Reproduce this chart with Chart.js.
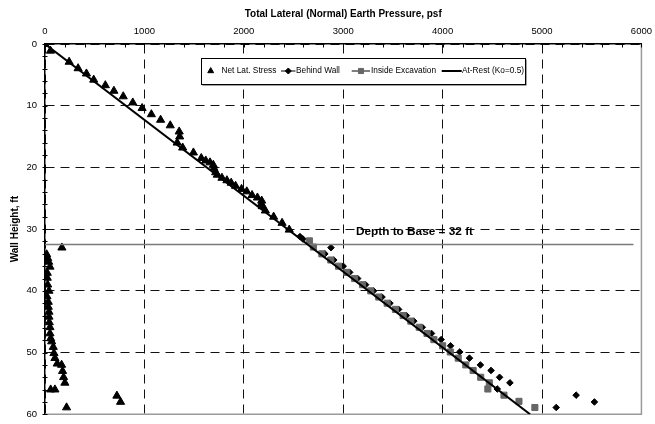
<!DOCTYPE html>
<html><head><meta charset="utf-8">
<script src="https://cdn.jsdelivr.net/npm/chart.js@4.4.1/dist/chart.umd.min.js"></script>
<style>html,body{margin:0;padding:0;background:#fff}#wrap{width:655px;height:424px;position:relative}</style>
</head><body><div id="wrap"><canvas id="c"></canvas></div>
<script>
// ---- data ----
const seriesNames = ['Net Lat. Stress', 'Behind Wall', 'Inside Excavation', 'At-Rest (Ko=0.5)'];
const xAxisTitle = 'Total Lateral (Normal) Earth Pressure, psf';
const yAxisTitle = 'Wall Height, ft';
const xTickLabels = [0, 1000, 2000, 3000, 4000, 5000, 6000];
const yTickLabels = [0, 10, 20, 30, 40, 50, 60];

const netLatPsf = [0, 55, 243, 333, 417, 490, 607, 693, 787, 883, 977, 1070, 1163, 1260, 1350, 1355, 1330, 1385, 1493, 1572, 1617, 1660, 1693, 1700, 1717, 1733, 1780, 1830, 1873, 1917, 1977, 2030, 2083, 2137, 2180, 2177, 2185, 2217, 2300, 2385, 2457,
  170, 17, 27, 37, 50, 23, 23, 27, 40, 20, 33, 33, 40, 40, 43, 50, 50, 57, 67, 83, 90, 100, 123, 167, 177, 187, 200, 57, 100, 723, 760, 217];
const netLatFt = [0, 1.1, 2.9, 3.95, 4.8, 5.8, 6.7, 7.6, 8.5, 9.5, 10.4, 11.4, 12.3, 13.2, 14.2, 15.0, 16.0, 16.8, 17.6, 18.5, 18.9, 19.2, 19.6, 20.1, 20.8, 21.2, 21.7, 22.1, 22.5, 23.0, 23.5, 23.9, 24.5, 24.9, 25.4, 25.9, 26.3, 27.0, 28.0, 29.0, 30.1,
  33.0, 34.1, 34.7, 35.3, 36.1, 37.1, 37.9, 39.0, 40.0, 40.9, 41.8, 42.6, 43.4, 44.2, 45.1, 45.9, 46.9, 47.7, 48.2, 49.1, 50.1, 50.9, 51.8, 52.0, 53.0, 54.0, 54.9, 56.0, 56.0, 57.0, 58.0, 58.9];

const behindWallPsf = [2565, 2595, 2877, 2815, 2905, 3000, 3065, 3145, 3225, 3305, 3390, 3470, 3557, 3635, 3710, 3795, 3888, 3985, 4080, 4172, 4270, 4380, 4487, 4573, 4677, 4550, 5343, 5527, 5143];
const behindWallFt = [31.2, 31.6, 33.0, 34.0, 35.0, 36.0, 37.0, 38.0, 39.0, 40.0, 41.0, 42.0, 43.0, 44.0, 44.9, 45.9, 46.9, 47.9, 48.9, 49.9, 50.9, 52.0, 52.9, 54.0, 54.9, 55.9, 56.9, 58.0, 58.9];

const insideExcPsf = [2660, 2700, 2785, 2875, 2953, 3035, 3115, 3195, 3277, 3357, 3442, 3525, 3603, 3680, 3765, 3843, 3912, 4000, 4077, 4157, 4233, 4307, 4383, 4470, 4455, 4617, 4768, 4928];
const insideExcFt = [31.9, 32.9, 34.0, 35.0, 36.0, 37.0, 38.0, 39.0, 40.0, 41.0, 42.0, 43.0, 44.0, 44.9, 45.9, 46.9, 47.9, 48.9, 49.9, 50.9, 52.0, 52.9, 54.0, 54.9, 55.9, 56.9, 57.9, 58.9];

const atRestPsf = [0, 4880];
const atRestFt = [0, 60];

const baseLinePsf = [0, 5920];
const baseLineFt = [32.5, 32.5];
const baseLabel = 'Depth to Base = 32 ft';
const baseLabelPsf = 3717;
const baseLabelFt = 30.5;

// ---- build ----
const pts = (xs, ys) => xs.map((x, i) => ({x: x, y: ys[i]}));
const FONT = '"Liberation Sans", Arial, Helvetica, sans-serif';

const extras = {
  id: 'extras',
  beforeDatasetsDraw(chart) {
    const {ctx, chartArea: a} = chart;
    ctx.save();
    ctx.strokeStyle = '#9a9a9a';
    ctx.lineWidth = 1.5;
    ctx.beginPath();
    ctx.moveTo(a.right, a.top);
    ctx.lineTo(a.right, a.bottom);
    ctx.lineTo(a.left, a.bottom);
    ctx.stroke();
    ctx.restore();
  },
  afterDraw(chart) {
    const ctx = chart.ctx;
    const xs = chart.scales.x, ys = chart.scales.y;
    const a = chart.chartArea;
    ctx.save();
    // tick marks (inside / crossing, like the reference)
    ctx.strokeStyle = '#000';
    ctx.lineWidth = 1;
    ctx.beginPath();
    xs.ticks.forEach(t => {
      const px = Math.round(xs.getPixelForValue(t.value)) + 0.5;
      ctx.moveTo(px, a.top - 1); ctx.lineTo(px, a.top + 3.5);
    });
    ys.ticks.forEach(t => {
      const py = Math.round(ys.getPixelForValue(t.value)) + 0.5;
      ctx.moveTo(a.left - 2.5, py); ctx.lineTo(a.left + 2.5, py);
    });
    ctx.stroke();

    // base label
    ctx.font = 'bold 11.8px ' + FONT;
    ctx.fillStyle = '#000';
    ctx.textAlign = 'center';
    ctx.textBaseline = 'middle';
    ctx.fillText(baseLabel, xs.getPixelForValue(baseLabelPsf), ys.getPixelForValue(baseLabelFt));

    // legend box
    const L = 201, T = 58, W = 324, H = 26;
    ctx.fillStyle = '#444';
    ctx.fillRect(L + 1.5, T + 1.5, W, H);
    ctx.fillStyle = '#fff';
    ctx.fillRect(L, T, W, H);
    ctx.strokeStyle = '#000';
    ctx.lineWidth = 1;
    ctx.strokeRect(L + 0.5, T + 0.5, W, H);
    const cy = T + 13;
    const dp = Chart.helpers.drawPoint;
    const line = (x1, x2, w) => {
      ctx.strokeStyle = '#000'; ctx.lineWidth = w;
      ctx.beginPath(); ctx.moveTo(x1, cy); ctx.lineTo(x2, cy); ctx.stroke();
    };
    ctx.fillStyle = '#000'; ctx.strokeStyle = '#000';
    dp(ctx, {pointStyle: 'triangle', radius: 3.4, borderWidth: 1, rotation: 0}, 210.7, cy);
    line(281, 295.5, 1);
    ctx.fillStyle = '#000'; ctx.strokeStyle = '#000';
    dp(ctx, {pointStyle: 'rectRot', radius: 3, borderWidth: 1, rotation: 0}, 288.3, cy);
    line(351.7, 370, 1);
    ctx.fillStyle = '#666'; ctx.strokeStyle = '#666';
    dp(ctx, {pointStyle: 'rect', radius: 3.6, borderWidth: 1, rotation: 0}, 361, cy);
    line(441.7, 461.7, 2);
    ctx.font = '8.3px ' + FONT;
    ctx.fillStyle = '#000';
    ctx.textAlign = 'left';
    ctx.textBaseline = 'middle';
    const tx = [221.5, 296, 371, 462];
    seriesNames.forEach((s, i) => ctx.fillText(s, tx[i], cy - 0.5));
    ctx.restore();
  }
};

const gridColor = (c) => (c.tick && c.tick.value % 1000 === 0) ? '#111' : 'rgba(0,0,0,0)';
const gridColorY = (c) => (c.tick && c.tick.value % 10 === 0) ? '#111' : 'rgba(0,0,0,0)';

new Chart(document.getElementById('c'), {
  type: 'scatter',
  data: {
    datasets: [
      {label: seriesNames[3], data: pts(atRestPsf, atRestFt), showLine: true, borderColor: '#000', borderWidth: 2, pointRadius: 0, order: 0},
      {label: 'base', data: pts(baseLinePsf, baseLineFt), showLine: true, borderColor: '#7a7a7a', borderWidth: 1.5, pointRadius: 0, order: 1},
      {label: seriesNames[2], data: pts(insideExcPsf, insideExcFt), pointStyle: 'rect', pointRadius: 4.3, backgroundColor: '#666', borderColor: '#666', borderWidth: 1, order: 2},
      {label: seriesNames[1], data: pts(behindWallPsf, behindWallFt), pointStyle: 'rectRot', pointRadius: 3.3, backgroundColor: '#000', borderColor: '#000', borderWidth: 1, order: 3},
      {label: seriesNames[0], data: pts(netLatPsf, netLatFt), pointStyle: 'triangle', pointRadius: 4.7, backgroundColor: '#000', borderColor: '#000', borderWidth: 1, order: 4}
    ]
  },
  options: {
    responsive: true,
    maintainAspectRatio: false,
    animation: false,
    events: [],
    layout: {padding: {left: 0, top: 0, right: 10, bottom: 6}},
    plugins: {legend: {display: false}, tooltip: {enabled: false}},
    scales: {
      x: {
        type: 'linear', position: 'top', min: 0, max: 6000,
        afterFit: (s) => { s.height = 44; },
        afterBuildTicks: (s) => { const t = []; for (let v = 0; v <= 6000; v += 200) t.push({value: v}); s.ticks = t; },
        ticks: {
          autoSkip: false, maxRotation: 0, padding: 3, color: '#000',
          font: {family: FONT, size: 9.5},
          callback: (v) => xTickLabels.includes(v) ? String(v) : ''
        },
        grid: {color: gridColor, lineWidth: 1, drawTicks: true, tickLength: 4, tickColor: 'rgba(0,0,0,0)', tickWidth: 1},
        border: {display: true, color: '#000', width: 1.5, dash: [9, 6]},
        title: {display: true, text: xAxisTitle, color: '#000', font: {family: FONT, size: 10, weight: 'bold'}, padding: {top: 8, bottom: 0}}
      },
      y: {
        type: 'linear', position: 'left', min: 0, max: 60, reverse: true,
        afterFit: (s) => { s.width = 45; },
        afterBuildTicks: (s) => { const t = []; for (let v = 0; v <= 60; v += 2) t.push({value: v}); s.ticks = t; },
        ticks: {
          autoSkip: false, padding: 4, color: '#000',
          font: {family: FONT, size: 9.5},
          callback: (v) => yTickLabels.includes(v) ? String(v) : ''
        },
        grid: {color: gridColorY, lineWidth: 1, drawTicks: true, tickLength: 4, tickColor: 'rgba(0,0,0,0)', tickWidth: 1},
        border: {display: true, color: '#000', width: 1.5, dash: [9, 6]},
        title: {display: true, text: yAxisTitle, color: '#000', font: {family: FONT, size: 10, weight: 'bold'}, padding: {top: 9, bottom: 0}}
      }
    }
  },
  plugins: [extras]
});
</script>
</body></html>
